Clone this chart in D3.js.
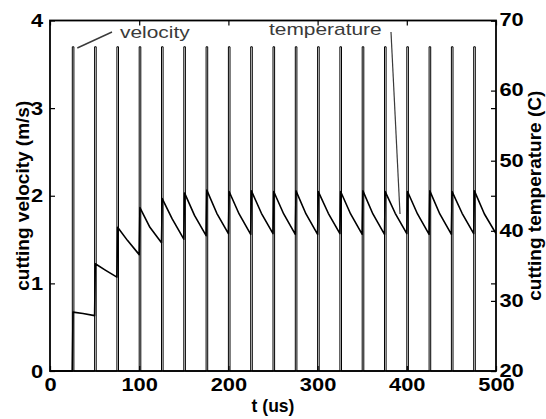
<!DOCTYPE html>
<html>
<head>
<meta charset="utf-8">
<script src="https://cdn.jsdelivr.net/npm/d3@7"></script>
<style>
  html, body { margin: 0; padding: 0; background: #fff; }
  svg { display: block; }
</style>
</head>
<body>
<svg id="chart" width="546" height="419"></svg>
<script>
// Pulse times (us) at which the tool engages
const spikeTimes = [25, 50, 75, 100, 125, 150, 175, 200, 225, 250, 275, 300, 325, 350, 375, 400, 425, 450, 475];
// Cutting velocity reached during each pulse (m/s)
const velocityPeaks = [3.7, 3.7, 3.7, 3.7, 3.7, 3.7, 3.7, 3.7, 3.7, 3.7, 3.7, 3.7, 3.7, 3.7, 3.7, 3.7, 3.7, 3.7, 3.7];
const pulseWidth = 1.8; // us

// Cutting temperature (C): start level, then per cycle the peak just after the pulse,
// the value 12 us later, and the trough reached just before the next pulse
const tempStart = 20;
const tempPeak   = [28.4, 35.3, 40.5, 43.3, 44.6, 45.4, 45.8, 45.6, 45.7, 45.6, 45.7, 45.6, 45.6, 45.7, 45.6, 45.6, 45.7, 45.6, 45.7];
const tempMid    = [28.2, 34.4, 38.6, 40.5, 41.7, 42.2, 42.5, 42.4, 42.5, 42.4, 42.4, 42.5, 42.4, 42.4, 42.5, 42.4, 42.4, 42.5, 42.4];
const tempTrough = [27.9, 33.4, 36.6, 38.3, 38.8, 39.3, 39.6, 39.5, 39.6, 39.5, 39.5, 39.6, 39.5, 39.5, 39.6, 39.5, 39.5, 39.6, 39.6];

// Axis ticks
const timeTicks = [0, 100, 200, 300, 400, 500];
const velocityTicks = [0, 1, 2, 3, 4];
const tempTicks = [20, 30, 40, 50, 60, 70];

const svg = d3.select("#chart");
const plotL = 50, plotR = 496, plotT = 20.5, plotB = 371;

const x = d3.scaleLinear().domain([0, 500]).range([plotL, plotR]);
const yV = d3.scaleLinear().domain([0, 4]).range([plotB, plotT]);
const yT = d3.scaleLinear().domain([20, 70]).range([plotB, plotT]);

svg.append("rect").attr("width", 546).attr("height", 419).attr("fill", "#fff");

svg.append("defs").append("clipPath").attr("id", "plot")
  .append("rect").attr("x", plotL).attr("y", plotT - 1).attr("width", plotR - plotL).attr("height", plotB - plotT + 2);

// Velocity trace: rectangular pulses from zero
const velPts = [[0, 0]];
spikeTimes.forEach((t, i) => {
  velPts.push([t, 0], [t, velocityPeaks[i]], [t + pulseWidth, velocityPeaks[i]], [t + pulseWidth, 0]);
});
velPts.push([500, 0]);

const velLine = d3.line().x(d => x(d[0])).y(d => yV(d[1]));
svg.append("path")
  .attr("clip-path", "url(#plot)")
  .attr("d", velLine(velPts))
  .attr("fill", "none").attr("stroke", "#000").attr("stroke-width", 1);

// Temperature trace: jump at each pulse, then cooling until the next one
const tempPts = [[0, tempStart], [spikeTimes[0], tempStart]];
spikeTimes.forEach((t, i) => {
  const next = i + 1 < spikeTimes.length ? spikeTimes[i + 1] : 500;
  tempPts.push([t + 0.8, tempPeak[i]], [t + 12, tempMid[i]], [next, tempTrough[i]]);
});
const tempLine = d3.line().x(d => x(d[0])).y(d => yT(d[1]));
svg.append("path")
  .attr("clip-path", "url(#plot)")
  .attr("d", tempLine(tempPts))
  .attr("fill", "none").attr("stroke", "#000").attr("stroke-width", 1.6)
  .attr("stroke-linejoin", "round");

// Axes with inward ticks on all four sides
const font = "'Liberation Sans', Arial, Helvetica, sans-serif";
function styleAxis(g) {
  g.select(".domain").remove();
  g.selectAll(".tick line").attr("stroke", "#000").attr("stroke-width", 1.2);
  g.selectAll(".tick text")
    .attr("font-family", font).attr("font-weight", "bold").attr("font-size", 19)
    .attr("fill", "#000").attr("transform", "scale(1.15,1)");
}
svg.append("g").attr("transform", `translate(0,${plotB})`)
  .call(d3.axisBottom(x).tickValues(timeTicks).tickSizeInner(-5).tickSizeOuter(0).tickPadding(7))
  .call(styleAxis);
svg.append("g").attr("transform", `translate(0,${plotT})`)
  .call(d3.axisTop(x).tickValues(timeTicks).tickSizeInner(-5).tickSizeOuter(0).tickFormat(""))
  .call(styleAxis);
svg.append("g").attr("transform", `translate(${plotL},0)`)
  .call(d3.axisLeft(yV).tickValues(velocityTicks).tickSizeInner(-5).tickSizeOuter(0).tickPadding(6).tickFormat(d3.format("d")))
  .call(styleAxis);
svg.append("g").attr("transform", `translate(${plotR},0)`)
  .call(d3.axisRight(yV).tickValues(velocityTicks).tickSizeInner(-5).tickSizeOuter(0).tickFormat(""))
  .call(styleAxis);
svg.append("g").attr("transform", `translate(${plotR},0)`)
  .call(d3.axisRight(yT).tickValues(tempTicks).tickSizeInner(-5).tickSizeOuter(0).tickPadding(3).tickFormat(d3.format("d")))
  .call(styleAxis)
  .call(g => g.selectAll(".tick text").attr("dy", "0.28em"));

// Frame
svg.append("rect")
  .attr("x", plotL).attr("y", plotT).attr("width", plotR - plotL).attr("height", plotB - plotT)
  .attr("fill", "none").attr("stroke", "#000").attr("stroke-width", 1.8);

// Axis titles
svg.append("text")
  .attr("transform", `translate(29,${(plotT + plotB) / 2}) rotate(-90)`)
  .attr("text-anchor", "middle")
  .attr("font-family", font).attr("font-weight", "bold").attr("font-size", 19)
  .text("cutting velocity (m/s)");
svg.append("text")
  .attr("transform", `translate(541,${(plotT + plotB) / 2}) rotate(-90)`)
  .attr("text-anchor", "middle")
  .attr("font-family", font).attr("font-weight", "bold").attr("font-size", 19)
  .text("cutting temperature (C)");
svg.append("text")
  .attr("transform", `translate(${(plotL + plotR) / 2},412)`)
  .attr("text-anchor", "middle")
  .attr("font-family", font).attr("font-weight", "bold").attr("font-size", 17.5)
  .text("t (us)");

// Callouts
const callColor = "#3a3a3a";
svg.append("line")
  .attr("x1", 112).attr("y1", 32).attr("x2", x(spikeTimes[0]) + 5).attr("y2", 48)
  .attr("stroke", callColor).attr("stroke-width", 1.4);
svg.append("text")
  .attr("transform", "translate(120,37.5) scale(1.23,1)")
  .attr("font-family", font).attr("font-size", 17).attr("fill", callColor)
  .text("velocity");
svg.append("line")
  .attr("x1", 391).attr("y1", 32).attr("x2", 400).attr("y2", 214)
  .attr("stroke", callColor).attr("stroke-width", 1.2);
svg.append("text")
  .attr("transform", "translate(269,34.5) scale(1.23,1)")
  .attr("font-family", font).attr("font-size", 17).attr("fill", callColor)
  .text("temperature");
</script>
</body>
</html>
